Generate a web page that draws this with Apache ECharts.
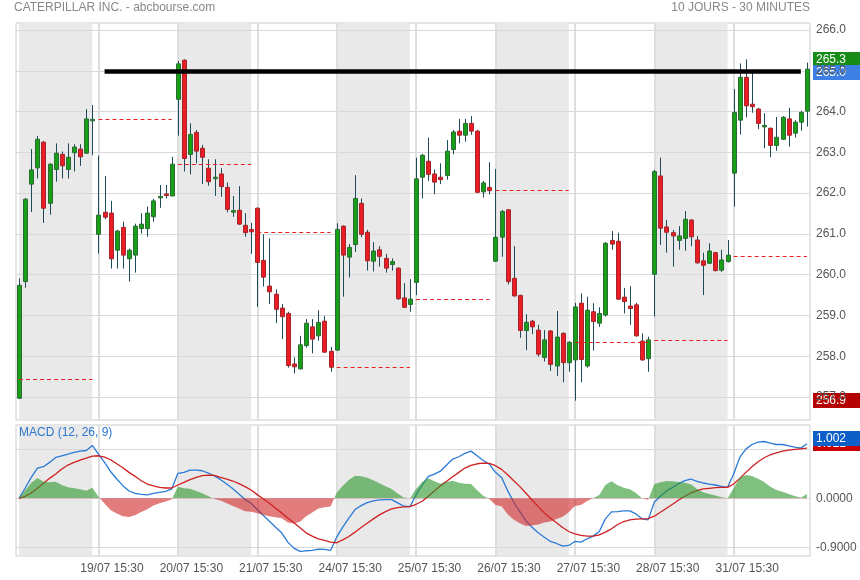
<!DOCTYPE html>
<html><head><meta charset="utf-8">
<script src="https://cdn.jsdelivr.net/npm/echarts@6/dist/echarts.min.js"></script>
<style>html,body{margin:0;padding:0;background:#fff}#c{width:860px;height:580px}</style>
</head><body><div id="c"></div>
<script>
// ---------- data ----------
const days = ['18/07','19/07','20/07','21/07','24/07','25/07','26/07','27/07','28/07','31/07'];
const times = ['15:30','16:00','16:30','17:00','17:30','18:00','18:30','19:00','19:30','20:00','20:30','21:00','21:30'];

const opens = [
256.97,259.83,262.22,262.62,263.25,261.75,262.58,262.95,262.58,262.99,263.08,262.98,263.80,
260.99,261.53,261.51,260.60,261.16,260.39,260.48,261.13,261.13,261.42,261.89,261.98,261.93,
264.30,265.26,262.95,263.49,263.10,262.61,262.36,262.47,262.14,261.54,261.58,261.21,261.11,
261.63,260.35,259.72,259.52,259.18,259.05,257.81,257.69,258.26,258.72,258.50,258.86,258.12,
258.15,261.19,260.43,260.74,261.75,261.04,260.33,260.61,260.40,260.25,260.16,259.43,259.27,
259.81,262.39,262.78,262.47,262.39,262.43,263.07,263.52,263.42,263.71,263.52,262.03,262.14,
260.33,260.92,261.59,259.91,259.49,258.63,258.86,258.64,257.97,258.62,257.76,258.56,257.84,
257.91,259.30,257.76,259.09,258.81,259.01,260.84,260.82,259.45,259.23,259.26,258.37,257.94,
260.01,262.42,261.17,261.03,260.84,260.89,261.34,260.85,260.34,260.28,260.54,260.11,260.32,
262.49,263.79,264.84,264.18,264.06,263.63,263.59,263.17,263.32,263.82,263.47,263.74,264.01];
const closes = [
259.74,261.85,262.57,263.32,261.63,262.71,262.98,262.67,262.88,263.13,262.89,263.82,263.81,
261.46,261.41,260.39,261.07,260.48,260.60,261.19,261.24,261.51,261.81,261.92,261.94,262.71,
265.17,262.85,263.44,263.03,262.88,262.28,262.39,262.16,261.60,261.57,261.24,261.03,261.05,
260.30,259.94,259.58,259.15,258.97,257.77,257.74,258.28,258.81,258.42,258.83,258.10,257.73,
261.11,260.48,260.67,261.87,260.99,260.34,260.58,260.45,260.16,260.32,259.41,259.20,259.40,
262.35,262.93,262.46,262.27,262.33,263.03,263.50,263.42,263.71,263.52,262.02,262.25,262.06,
260.92,261.55,259.83,259.48,258.63,258.83,258.72,258.05,258.40,257.80,258.47,257.84,258.34,
259.21,257.92,259.13,258.85,259.05,260.77,260.75,259.40,259.34,259.17,258.50,257.91,258.40,
262.53,261.14,261.04,260.95,260.95,261.36,260.93,260.29,260.23,260.58,260.10,260.36,260.48,
263.98,264.84,264.14,264.12,263.71,263.66,263.17,263.37,263.86,263.42,263.74,263.98,265.04];
const lows = [
256.95,259.68,261.54,262.36,261.27,261.47,262.28,262.36,262.36,262.53,262.67,262.96,262.93,
260.52,261.36,260.15,260.15,260.15,259.83,260.05,261.01,260.93,261.30,261.64,261.87,261.93,
263.41,262.53,262.46,262.73,262.22,262.18,261.93,261.91,261.53,261.42,261.22,260.93,260.51,
259.21,259.71,259.28,258.81,258.42,257.72,257.58,257.67,258.21,258.07,258.38,258.08,257.62,
258.13,259.46,259.93,260.56,260.92,260.10,260.08,260.20,260.05,260.10,259.38,259.18,259.09,
259.50,261.87,262.30,261.97,262.22,262.33,262.95,263.22,263.26,263.43,262.00,261.89,261.97,
260.31,260.44,259.76,259.46,258.45,258.15,258.54,257.99,257.87,257.64,257.52,257.36,257.62,
256.91,257.36,257.72,258.14,258.72,258.97,260.61,259.38,259.05,258.77,258.48,257.89,257.62,
258.97,260.73,260.54,260.20,260.61,260.59,260.70,260.27,259.50,260.26,260.08,260.07,260.30,
261.67,263.44,263.86,263.97,263.57,263.10,262.88,263.04,263.30,263.14,263.36,263.53,263.63];
const highs = [
259.91,261.88,263.08,263.40,263.28,262.73,263.22,263.02,263.22,263.20,263.20,264.06,264.16,
262.92,262.42,261.81,261.10,261.30,260.64,261.25,261.51,261.67,261.86,262.20,262.20,262.89,
265.24,265.28,263.71,263.55,263.18,262.83,262.83,262.61,262.26,261.93,262.17,261.51,261.27,
261.65,260.99,260.89,259.64,259.28,259.09,257.97,258.50,258.91,258.91,259.13,258.99,258.23,
261.26,261.21,260.75,262.44,261.87,261.10,260.80,260.70,260.51,260.40,260.18,259.79,259.89,
262.87,262.96,263.36,262.58,262.73,263.30,263.55,263.82,263.82,263.89,263.55,262.30,262.76,
262.59,261.59,261.61,260.70,259.51,259.03,258.89,258.77,258.64,258.64,259.11,258.59,258.37,
259.31,259.54,259.46,259.30,259.20,260.80,261.07,261.03,259.67,259.72,259.31,258.56,258.48,
262.57,262.87,261.34,261.10,261.19,261.56,261.36,260.95,260.54,260.77,260.56,260.61,260.85,
264.55,265.18,265.28,264.98,264.09,263.96,263.61,263.87,263.89,264.09,263.79,264.02,265.20];

// previous close shown as a dashed line across each day
const prevClose = [257.43,263.80,262.70,261.04,257.73,259.39,262.07,258.34,258.39,260.46];
// horizontal level line
const levelValue = 265.0;
const levelFromBar = 14, levelToBar = 128;

const macd = [
0,0.189,0.384,0.555,0.580,0.659,0.750,0.781,0.811,0.842,0.866,0.878,0.970,
0.811,0.659,0.488,0.354,0.232,0.134,0.092,0.073,0.061,0.092,0.110,0.128,0.171,
0.458,0.476,0.519,0.519,0.506,0.464,0.409,0.342,0.262,0.177,0.079,-0.024,-0.092,
-0.207,-0.317,-0.421,-0.531,-0.634,-0.805,-0.915,-0.976,-0.964,-0.958,-0.933,-0.939,-0.958,
-0.714,-0.531,-0.366,-0.207,-0.134,-0.079,-0.049,-0.031,-0.024,-0.024,-0.085,-0.146,-0.153,
0.061,0.244,0.403,0.445,0.500,0.610,0.720,0.763,0.824,0.866,0.781,0.695,0.628,
0.476,0.384,0.140,-0.073,-0.244,-0.415,-0.531,-0.634,-0.714,-0.793,-0.830,-0.878,-0.866,
-0.793,-0.805,-0.744,-0.695,-0.610,-0.378,-0.250,-0.244,-0.232,-0.232,-0.287,-0.378,-0.397,
-0.073,0.037,0.134,0.201,0.268,0.323,0.354,0.311,0.281,0.262,0.244,0.220,0.201,
0.445,0.750,0.903,0.988,1.031,1.043,1.013,0.988,0.988,0.964,0.939,0.921,1.002];
const signal = [
0,0.037,0.098,0.183,0.275,0.366,0.445,0.537,0.610,0.659,0.702,0.738,0.775,
0.781,0.756,0.708,0.634,0.561,0.476,0.403,0.323,0.262,0.226,0.201,0.189,0.189,
0.244,0.293,0.342,0.384,0.415,0.427,0.421,0.384,0.354,0.317,0.268,0.214,0.153,
0.067,-0.012,-0.092,-0.183,-0.268,-0.360,-0.451,-0.543,-0.634,-0.695,-0.744,-0.775,-0.805,
-0.817,-0.763,-0.702,-0.622,-0.537,-0.458,-0.378,-0.305,-0.244,-0.195,-0.171,-0.159,-0.153,
-0.110,-0.055,0.037,0.134,0.232,0.311,0.397,0.476,0.555,0.604,0.634,0.647,0.641,
0.598,0.531,0.433,0.323,0.214,0.092,-0.031,-0.153,-0.268,-0.366,-0.451,-0.537,-0.610,
-0.653,-0.683,-0.695,-0.695,-0.671,-0.622,-0.561,-0.482,-0.427,-0.397,-0.384,-0.378,-0.372,
-0.329,-0.256,-0.183,-0.110,-0.031,0.037,0.098,0.140,0.171,0.183,0.195,0.201,0.201,
0.262,0.366,0.476,0.580,0.671,0.744,0.799,0.836,0.866,0.885,0.897,0.909,0.921];
const histogram = [
0,0.152,0.286,0.372,0.305,0.293,0.305,0.244,0.201,0.183,0.164,0.140,0.195,
0.030,-0.097,-0.220,-0.280,-0.329,-0.342,-0.311,-0.250,-0.201,-0.134,-0.091,-0.061,-0.018,
0.214,0.183,0.177,0.135,0.091,0.037,-0.012,-0.042,-0.092,-0.140,-0.189,-0.238,-0.245,
-0.274,-0.305,-0.329,-0.348,-0.366,-0.445,-0.464,-0.433,-0.330,-0.263,-0.189,-0.164,-0.153,
0.103,0.232,0.336,0.415,0.403,0.379,0.329,0.274,0.220,0.171,0.086,0.013,0,
0.171,0.299,0.366,0.311,0.268,0.299,0.323,0.287,0.269,0.262,0.147,0.048,-0.013,
-0.122,-0.147,-0.293,-0.396,-0.458,-0.507,-0.500,-0.481,-0.446,-0.427,-0.379,-0.341,-0.256,
-0.140,-0.122,-0.049,0,0.061,0.244,0.311,0.238,0.195,0.165,0.097,0,-0.025,
0.256,0.293,0.317,0.311,0.299,0.286,0.256,0.171,0.110,0.079,0.049,0.019,0,
0.183,0.384,0.427,0.408,0.360,0.299,0.214,0.152,0.122,0.079,0.042,0.012,0.081];

const priceTicks = [257,258,259,260,261,262,263,264,265,266];
const macdTicks = [-0.9, 0, 0.9];
const macdLabeledTicks = [-0.9, 0];

// ---------- build ----------
const FONT = '"Liberation Sans", Arial, sans-serif';
const categories = [];
days.forEach(d => times.forEach(t => categories.push(d + ' ' + t)));
const perDay = times.length;
const dayStarts = days.map((d, k) => k * perDay);
const candleData = opens.map((o, i) => [i, o, closes[i], lows[i], highs[i]]);

const shade = dayStarts.filter((s, k) => k % 2 === 0).map(s => [{xAxis: s}, {xAxis: s + perDay - 1}]);
const vLines = dayStarts.slice(1).map(s => ({xAxis: s, label: {show: false}, lineStyle: {width: 2, color: '#dedede'}}));

function gridMarkLine(ticks, labeled, digits) {
  return {
    silent: true, symbol: ['none', 'none'], z: 1.5, animation: false,
    lineStyle: {color: '#d9d9d9', width: 1, type: 'solid'},
    label: {show: true, position: 'end', distance: 6, color: '#555', fontSize: 12, fontFamily: FONT},
    emphasis: {disabled: true},
    data: ticks.map(v => ({yAxis: v, label: {show: labeled.indexOf(v) >= 0, formatter: v.toFixed(digits)}})).concat(vLines)
  };
}

function renderCandle(params, api) {
  const i = api.value(0);
  const o = api.value(1), c = api.value(2), l = api.value(3), h = api.value(4);
  const pO = api.coord([i, o]), pC = api.coord([i, c]), pL = api.coord([i, l]), pH = api.coord([i, h]);
  const cx = Math.round(pO[0]) + 0.5;
  const up = c >= o;
  const top = Math.min(pO[1], pC[1]);
  const bh = Math.max(Math.abs(pO[1] - pC[1]), 1.5);
  return {type: 'group', children: [
    {type: 'line', shape: {x1: cx, y1: pH[1], x2: cx, y2: pL[1]}, style: {stroke: '#1f4a5c', lineWidth: 1}},
    {type: 'rect', shape: {x: cx - 2, y: top, width: 4, height: bh},
     style: {fill: up ? '#17a017' : '#ec1c24', stroke: up ? '#2d6b35' : '#a3262a', lineWidth: 1}}
  ]};
}

const dashStyle = {color: '#e8231f', width: 1, type: [4, 3]};
const blackStyle = {color: '#000', width: 4.5, type: 'solid'};

const chart = echarts.init(document.getElementById('c'), null, {renderer: 'canvas'});
const option = {
  animation: false,
  backgroundColor: '#fff',
  title: [
    {text: 'CATERPILLAR INC. - abcbourse.com', left: 14, top: 2, padding: 0,
     textStyle: {fontSize: 12, color: '#888', fontWeight: 'normal', fontFamily: FONT}},
    {text: '10 JOURS - 30 MINUTES', right: 50, top: 2, padding: 0,
     textStyle: {fontSize: 12, color: '#888', fontWeight: 'normal', fontFamily: FONT}},
    {text: 'MACD (12, 26, 9)', left: 19, top: 427, padding: 0,
     textStyle: {fontSize: 12, color: '#2a78d0', fontWeight: 'normal', fontFamily: FONT}}
  ],
  grid: [
    {left: 16, right: 50, top: 23, bottom: 160, show: true, borderColor: '#cccccc', borderWidth: 1, backgroundColor: 'transparent'},
    {left: 16, right: 50, top: 425, bottom: 24, show: true, borderColor: '#cccccc', borderWidth: 1, backgroundColor: 'transparent'}
  ],
  xAxis: [
    {type: 'category', gridIndex: 0, data: categories, show: false},
    {type: 'category', gridIndex: 1, data: categories,
     axisLine: {show: false}, axisTick: {show: false}, splitLine: {show: false},
     axisLabel: {interval: (i) => i > 0 && i % perDay === 0, color: '#555', fontSize: 12, fontFamily: FONT,
                 margin: 7, padding: [0, 0, 0, 27]}}
  ],
  yAxis: [
    {type: 'value', gridIndex: 0, min: 256.436, max: 266.172, show: false},
    {type: 'value', gridIndex: 1, min: -1.06, max: 1.346, show: false}
  ],
  visualMap: [{type: 'piecewise', show: false, seriesIndex: 6, dimension: 1,
    pieces: [{gt: 0, lte: 1.5, color: '#2a962a'}, {gte: -1.5, lte: 0, color: '#d02424'}],
    outOfRange: {color: '#999'}}],
  series: [
    {name: 'bg', type: 'line', xAxisIndex: 0, yAxisIndex: 0, data: [], silent: true,
     markArea: {silent: true, z: 1, itemStyle: {color: '#e9e9e9'}, label: {show: false}, data: shade},
     markLine: gridMarkLine(priceTicks, priceTicks, 1)},
    {name: 'candles', type: 'custom', xAxisIndex: 0, yAxisIndex: 0, z: 2, silent: true,
     renderItem: renderCandle, encode: {x: 0, y: [1, 2, 3, 4]}, data: candleData},
    {name: 'levels', type: 'line', xAxisIndex: 0, yAxisIndex: 0, data: [], silent: true,
     markLine: {silent: true, symbol: ['none', 'none'], z: 5, animation: false, label: {show: false},
       lineStyle: dashStyle,
       data: prevClose.map((v, k) => [{coord: [dayStarts[k], v], lineStyle: dashStyle},
                                      {coord: [dayStarts[k] + perDay - 1, v], lineStyle: dashStyle}])
         .concat([[{coord: [levelFromBar, levelValue], lineStyle: blackStyle},
                   {coord: [levelToBar, levelValue], lineStyle: blackStyle}]])}},
    {name: 'bgMacd', type: 'line', xAxisIndex: 1, yAxisIndex: 1, data: [], silent: true,
     markArea: {silent: true, z: 1, itemStyle: {color: '#e9e9e9'}, label: {show: false}, data: shade},
     markLine: gridMarkLine(macdTicks, macdLabeledTicks, 4)},
    {name: 'MACD', type: 'line', xAxisIndex: 1, yAxisIndex: 1, data: macd, symbol: 'none', z: 2,
     lineStyle: {color: '#2a7ad6', width: 1.3}, silent: true},
    {name: 'Signal', type: 'line', xAxisIndex: 1, yAxisIndex: 1, data: signal, symbol: 'none', z: 2,
     lineStyle: {color: '#d01f1f', width: 1.3}, silent: true},
    {name: 'Hist', type: 'line', xAxisIndex: 1, yAxisIndex: 1, data: histogram, symbol: 'none', z: 3,
     lineStyle: {width: 0}, areaStyle: {opacity: 0.6}, silent: true}
  ]
};
chart.setOption(option);

// value boxes on the right axis, positioned through the chart's own scales
function box(y, text, fill) {
  return {type: 'group', x: 813, y: Math.round(y - 7.5), z: 100, silent: true, children: [
    {type: 'rect', shape: {x: 0, y: 0, width: 47, height: 15}, style: {fill: fill}},
    {type: 'text', x: 3, y: 8, style: {text: text, fill: '#fff', font: '12px ' + FONT, verticalAlign: 'middle'}}
  ]};
}
const yP = v => chart.convertToPixel({yAxisIndex: 0}, v);
const yM = v => chart.convertToPixel({yAxisIndex: 1}, v);
const maxHigh = Math.max.apply(null, highs);
const minLow = Math.min.apply(null, lows);
const lastMacd = macd[macd.length - 1];
const lastSignal = signal[signal.length - 1];
chart.setOption({graphic: [
  box(yP(maxHigh), maxHigh.toFixed(1), '#168c16'),
  box(yP(levelValue) + 2, levelValue.toFixed(1), '#3d7fe2'),
  box(yP(minLow), minLow.toFixed(1), '#b40000'),
  box(yM(lastSignal) - 5, lastSignal.toFixed(3), '#c80000'),
  box(yM(lastMacd) - 5.5, lastMacd.toFixed(3), '#0d5fc8')
]});
</script>
</body></html>
